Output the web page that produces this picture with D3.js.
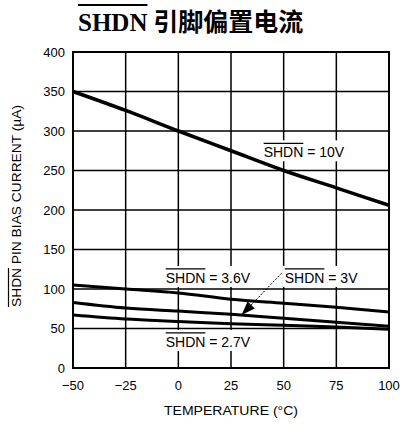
<!DOCTYPE html>
<html>
<head>
<meta charset="utf-8">
<script src="https://cdn.jsdelivr.net/npm/d3@7"></script>
<style>
  body { margin: 0; background: #fff; }
  text { font-family: "Liberation Sans", Arial, sans-serif; fill: #000; }
</style>
</head>
<body>
<div id="chart"></div>
<script>
// temperatures (°C) where each curve was read
const temps = [-50, -25, 0, 25, 50, 75, 100];

// SHDN pin bias current (uA) for each SHDN voltage
const shdn10V  = [350, 326, 300, 275, 250, 228, 206];
const shdn36V  = [105, 100, 95, 87, 82, 77, 71];
const shdn3V   = [83, 76, 72, 68, 63, 58, 53];
const shdn27V  = [67, 62, 59, 56, 54, 52, 49];

const xTicks = [-50, -25, 0, 25, 50, 75, 100];
const yTicks = [0, 50, 100, 150, 200, 250, 300, 350, 400];

// curve labels: [overlined part, rest, temp, current]
const labels = [
    ["SHDN", " = 10V", 40.5, 273],
    ["SHDN", " = 3.6V", -6, 114],
    ["SHDN", " = 3V", 50.5, 114],
    ["SHDN", " = 2.7V", -6, 33]
];

const width = 403, height = 424;
const margin = {left: 73, top: 52, right: 14, bottom: 56};

let svg = d3.select('#chart')
    .append('svg')
    .attr('width', width)
    .attr('height', height);

let x = d3.scaleLinear().domain([-50, 100]).range([margin.left, width - margin.right]);
let y = d3.scaleLinear().domain([0, 400]).range([height - margin.bottom, margin.top]);

//title
let title = svg.append('g');
let tt = title.append('text')
    .attr('x', 78)
    .attr('y', 31)
    .style('font-size', '25px')
    .style('font-weight', 'bold');
tt.append('tspan')
    .style('font-family', '"Liberation Serif", "DejaVu Serif", serif')
    .text('SHDN');
tt.append('tspan')
    .style('font-family', '"Noto Sans CJK SC", sans-serif')
    .text(' 引脚偏置电流');
let shdnW = tt.node().getSubStringLength(0, 4);
title.append('line')
    .attr('x1', 78).attr('x2', 78 + shdnW)
    .attr('y1', 5).attr('y2', 5)
    .attr('stroke', '#000')
    .attr('stroke-width', 2);

//grid
svg.append('g').selectAll('line')
    .data(xTicks)
    .enter()
    .append('line')
    .attr('x1', d => x(d)).attr('x2', d => x(d))
    .attr('y1', y(0)).attr('y2', y(400))
    .attr('stroke', '#000')
    .attr('stroke-width', 1.5);

svg.append('g').selectAll('line')
    .data(yTicks)
    .enter()
    .append('line')
    .attr('x1', x(-50)).attr('x2', x(100))
    .attr('y1', d => y(d)).attr('y2', d => y(d))
    .attr('stroke', '#000')
    .attr('stroke-width', 1.5);

svg.append('rect')
    .attr('x', x(-50)).attr('y', y(400))
    .attr('width', x(100) - x(-50))
    .attr('height', y(0) - y(400))
    .attr('fill', 'none')
    .attr('stroke', '#000')
    .attr('stroke-width', 2);

//tick labels
svg.append('g').selectAll('text')
    .data(xTicks)
    .enter()
    .append('text')
    .attr('x', d => x(d))
    .attr('y', y(0) + 17)
    .attr('text-anchor', 'middle')
    .attr('dominant-baseline', 'central')
    .style('font-size', '13px')
    .text(d => d < 0 ? '\u2212' + Math.abs(d) : d);

svg.append('g').selectAll('text')
    .data(yTicks)
    .enter()
    .append('text')
    .attr('x', x(-50) - 8)
    .attr('y', d => y(d))
    .attr('text-anchor', 'end')
    .attr('dominant-baseline', 'central')
    .style('font-size', '13px')
    .text(d => d);

//axis titles
svg.append('text')
    .attr('x', (x(-50) + x(100)) / 2)
    .attr('y', 415)
    .attr('text-anchor', 'middle')
    .attr('textLength', 134)
    .attr('lengthAdjust', 'spacingAndGlyphs')
    .style('font-size', '12px')
    .text('TEMPERATURE (°C)');

let yt = svg.append('g')
    .attr('transform', 'translate(21,206) rotate(-90)');
let ytext = yt.append('text')
    .attr('x', -101)
    .attr('y', 0)
    .attr('textLength', 202)
    .attr('lengthAdjust', 'spacingAndGlyphs')
    .style('font-size', '12px')
    .text('SHDN PIN BIAS CURRENT (\u00b5A)');
let ybb = ytext.node().getBBox();
yt.append('line')
    .attr('x1', -101).attr('x2', -101 + ytext.node().getSubStringLength(0, 4))
    .attr('y1', ybb.y - 1.5).attr('y2', ybb.y - 1.5)
    .attr('stroke', '#000')
    .attr('stroke-width', 1.2);

//curve labels with white background
labels.forEach(l => {
    let g = svg.append('g');
    let bg = g.append('rect').attr('fill', '#fff');
    let t = g.append('text')
        .attr('x', x(l[2]))
        .attr('y', y(l[3]))
        .attr('dominant-baseline', 'central')
        .style('font-size', '14px')
        .text(l[0] + l[1]);
    let bb = t.node().getBBox();
    let w = t.node().getSubStringLength(0, l[0].length);
    bg.attr('x', bb.x - 2).attr('y', bb.y - 4)
        .attr('width', bb.width + 4).attr('height', bb.height + 5);
    g.append('line')
        .attr('x1', bb.x).attr('x2', bb.x + w)
        .attr('y1', bb.y - 1).attr('y2', bb.y - 1)
        .attr('stroke', '#000')
        .attr('stroke-width', 1.3);
});

//curves
let line = d3.line()
    .x((d, i) => x(temps[i]))
    .y(d => y(d))
    .curve(d3.curveMonotoneX);

[[shdn10V, 3.5], [shdn36V, 3], [shdn3V, 3], [shdn27V, 3]].forEach(s => {
    svg.append('path')
        .datum(s[0])
        .attr('d', line)
        .attr('fill', 'none')
        .attr('stroke', '#000')
        .attr('stroke-width', s[1]);
});

//arrow from 3V label to its curve
svg.append('line')
    .attr('x1', x(49)).attr('y1', y(120))
    .attr('x2', x(30)).attr('y2', y(67))
    .attr('stroke', '#000')
    .attr('stroke-width', 1)
    .attr('stroke-dasharray', '2,1.5');
svg.append('path')
    .attr('d', () => {
        let tx = x(30), ty = y(67);
        let dx = x(49) - tx, dy = y(120) - ty;
        let len = Math.sqrt(dx * dx + dy * dy);
        let ux = dx / len, uy = dy / len;
        let bx = tx + ux * 14, by = ty + uy * 14;
        return 'M' + tx + ',' + ty +
            ' L' + (bx - uy * 5) + ',' + (by + ux * 5) +
            ' L' + (bx + uy * 5) + ',' + (by - ux * 5) + ' Z';
    })
    .attr('fill', '#000');
</script>
</body>
</html>
